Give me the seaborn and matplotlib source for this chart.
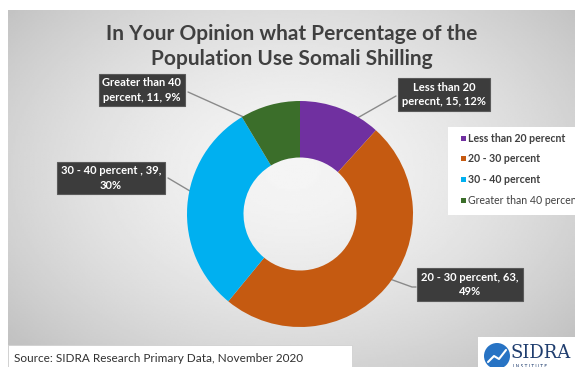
"""Donut chart: share of respondents by perceived Somali Shilling usage."""
import numpy as np
import matplotlib
matplotlib.use("Agg")
import matplotlib.pyplot as plt
from matplotlib.patches import Rectangle, Circle
import seaborn as sns

sns.set_theme(style="white")
plt.rcParams["font.family"] = ["Lato", "DejaVu Sans"]

categories = ["Less than 20 perecnt", "20 - 30 percent", "30 - 40 percent", "Greater than 40 percent"]
counts = [15, 63, 39, 11]
shares = [12, 49, 30, 9]
label_texts = ["Less than 20\nperecnt, 15, 12%", "20 - 30 percent, 63,\n49%",
               "30 - 40 percent , 39,\n30%", "Greater than 40\npercent, 11, 9%"]
colors = ["#7030A0", "#C55A11", "#00B0F0", "#3B6E2A"]

W, H = 575, 367
fig = plt.figure(figsize=(W / 100, H / 100), dpi=100)

# full-figure pixel axes for background and annotations
bg = fig.add_axes([0, 0, 1, 1])
bg.set_xlim(0, W)
bg.set_ylim(H, 0)
bg.axis("off")

# grey radial gradient panel
yy, xx = np.mgrid[0:200, 0:300]
r = np.sqrt(((xx - 150) / 150) ** 2 + ((yy - 90) / 110) ** 2)
grad = np.clip(0.96 - 0.13 * r ** 1.6, 0.76, 0.96)
bg.imshow(grad, cmap="gray", vmin=0, vmax=1, extent=[8, W, H, 10], aspect="auto", zorder=0)

bg.text(292, 34, "In Your Opinion what Percentage of the", ha="center", va="center",
        fontsize=15, fontweight="bold", color="#404040", zorder=5)
bg.text(292, 59, "Population Use Somali Shilling", ha="center", va="center",
        fontsize=15, fontweight="bold", color="#404040", zorder=5)

# donut
pie_ax = fig.add_axes([187 / W, 1 - 327 / H, 226 / W, 226 / H])
wedges, _ = pie_ax.pie(counts, colors=colors, startangle=90, counterclock=False,
                       wedgeprops=dict(width=0.5, edgecolor="none"))
pie_ax.set_xlim(-1, 1)
pie_ax.set_ylim(-1, 1)
pie_ax.axis("off")

# label boxes and leader lines (pixel coords)
boxes = [(444, 94.5), (470, 284.5), (111, 178), (142, 90)]
lines = [[(331, 133), (396, 96)], [(365, 270), (412, 287), (416, 287)],
         [(217, 207), (168, 178)], [(277, 132), (188, 92)]]
for txt, (bx, by), pts in zip(label_texts, boxes, lines):
    xs, ys = zip(*pts)
    bg.plot(xs, ys, color="#8a8a8a", lw=1, zorder=6)
    bg.text(bx, by, txt, ha="center", va="center", fontsize=8, fontweight="bold",
            color="white", linespacing=1.35, zorder=7,
            bbox=dict(boxstyle="square,pad=0.35", fc="#3c3c3c", ec="#5a5a5a", lw=0.8))

# legend box, runs off the right edge
bg.add_patch(Rectangle((448, 127), 140, 88, fc="white", ec="none", zorder=5))
for i, (cat, c) in enumerate(zip(categories, colors)):
    y = 138 + i * 20.7
    bg.add_patch(Rectangle((461, y - 2.5), 5, 5, fc=c, ec="none", zorder=6))
    bg.text(468, y, cat, ha="left", va="center", fontsize=7.6, color="#404040",
            fontweight="bold" if i < 3 else "normal", zorder=6, clip_on=True)

# source box
bg.add_patch(Rectangle((8, 345), 344, 25, fc="white", ec="#d0d0d0", lw=0.6, zorder=5))
bg.text(14, 358, "Source: SIDRA Research Primary Data, November 2020", ha="left", va="center",
        fontsize=8.5, color="#303030", zorder=6)

# logo
bg.add_patch(Rectangle((478, 337), 110, 40, fc="white", ec="none", zorder=5))
bg.add_patch(Circle((497, 356), 13, fc="#2773c4", ec="none", zorder=6))
bg.plot([488, 494, 499, 506], [362, 356, 359, 350], color="white", lw=1.5, zorder=7)
bg.text(511, 353, "SIDRA", ha="left", va="center", fontsize=13, family="DejaVu Serif",
        color="#1f3d6e", zorder=6)
bg.text(513, 366, "I N S T I T U T E", ha="left", va="center", fontsize=3.5,
        color="#1f3d6e", zorder=6)

fig.savefig("out.png", dpi=100)
